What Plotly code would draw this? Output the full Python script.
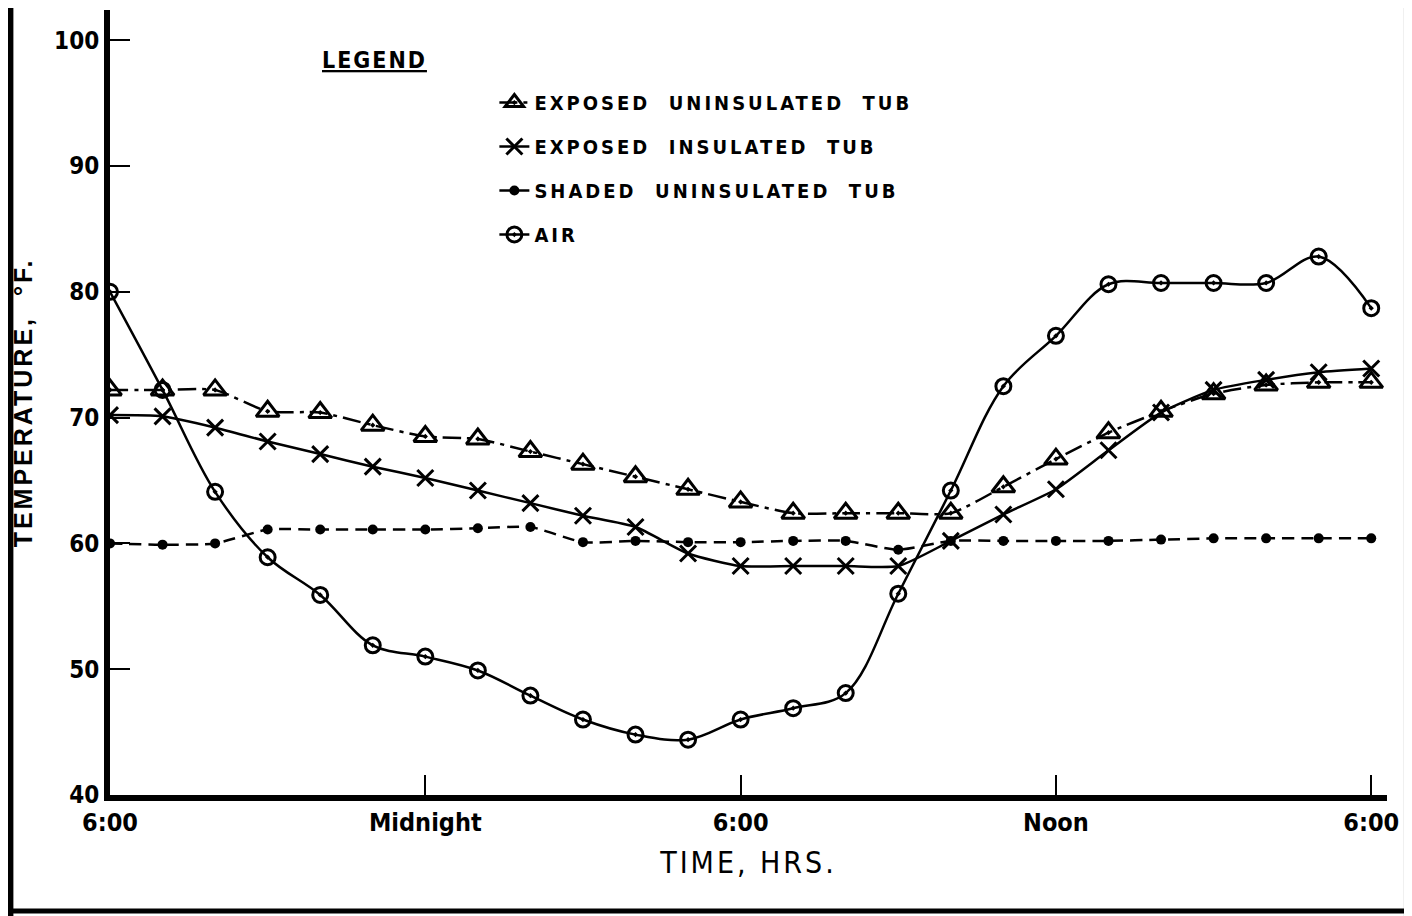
import plotly.graph_objects as go

# Hours after 6:00 PM (0..24)
hours = list(range(25))
tick_vals = [0, 6, 12, 18, 24]
tick_text = ["6:00", "Midnight", "6:00", "Noon", "6:00"]
y_ticks = [40, 50, 60, 70, 80, 90, 100]

exposed_uninsulated = [72.2, 72.2, 72.2, 70.5, 70.4, 69.4, 68.5, 68.3, 67.3, 66.3, 65.3, 64.3,
                       63.3, 62.4, 62.4, 62.4, 62.4, 64.5, 66.7, 68.8, 70.5, 71.9, 72.6, 72.8, 72.8]
exposed_insulated = [70.2, 70.1, 69.2, 68.1, 67.1, 66.1, 65.2, 64.2, 63.2, 62.2, 61.3, 59.2,
                     58.2, 58.2, 58.2, 58.2, 60.2, 62.3, 64.3, 67.4, 70.4, 72.2, 73.0, 73.6, 73.9]
shaded_uninsulated = [60.0, 59.9, 60.0, 61.1, 61.1, 61.1, 61.1, 61.2, 61.3, 60.1, 60.2, 60.1,
                      60.1, 60.2, 60.2, 59.5, 60.2, 60.2, 60.2, 60.2, 60.3, 60.4, 60.4, 60.4, 60.4]
air = [80.0, 72.2, 64.1, 58.9, 55.9, 51.9, 51.0, 49.9, 47.9, 46.0, 44.8, 44.4,
       46.0, 46.9, 48.1, 56.0, 64.2, 72.5, 76.5, 80.6, 80.7, 80.7, 80.7, 82.8, 78.7]

names = ["EXPOSED  UNINSULATED  TUB", "EXPOSED  INSULATED  TUB",
         "SHADED  UNINSULATED  TUB", "AIR"]

NARROW = "Liberation Sans Narrow, DejaVu Sans Condensed, Roboto Condensed, Liberation Sans, sans-serif"
COND = "DejaVu Sans Condensed, Liberation Sans, sans-serif"

def lab(s):
    return "<span style='letter-spacing:3px'>" + s.replace(" ", "\u00a0") + "</span>"

fig = go.Figure()
fig.add_trace(go.Scatter(
    x=hours, y=exposed_uninsulated, name=lab(names[0]), legendgroup="a",
    mode="lines+markers", line=dict(color="black", width=2.5, dash="18px,6px,4px,6px",
                                    shape="spline", smoothing=0.6),
    marker=dict(symbol="triangle-up-open-dot", size=20, color="black", line=dict(width=3, color="black"))))
fig.add_trace(go.Scatter(
    x=hours, y=exposed_insulated, name=lab(names[1]), legendgroup="b",
    mode="lines+markers", line=dict(color="black", width=2.5, shape="spline", smoothing=0.6),
    marker=dict(symbol="x-thin-open", size=16, color="black", line=dict(width=3, color="black"))))
fig.add_trace(go.Scatter(
    x=hours, y=shaded_uninsulated, name=lab(names[2]), legendgroup="c",
    mode="lines+markers", line=dict(color="black", width=2.5, dash="12px,7px",
                                    shape="spline", smoothing=0.6),
    marker=dict(symbol="circle", size=10, color="black")))
fig.add_trace(go.Scatter(
    x=hours, y=air, name=lab(names[3]), legendgroup="d",
    mode="lines+markers", line=dict(color="black", width=2.5, shape="spline", smoothing=1.0),
    marker=dict(symbol="circle-open-dot", size=15, color="black", line=dict(width=3, color="black"))))

tick_font = dict(family=NARROW, size=25, color="black", weight="bold")

fig.update_xaxes(
    range=[0, 24.3], tickmode="array", tickvals=tick_vals, ticktext=tick_text,
    ticks="inside", ticklen=20, tickwidth=2, tickcolor="black",
    showline=True, linewidth=6, linecolor="black", showgrid=False, zeroline=False,
    tickfont=tick_font,
    title=dict(text="<span style='letter-spacing:3px'>TIME,\u00a0HRS.</span>",
               font=dict(family=NARROW, size=30, color="black"), standoff=18))
fig.update_yaxes(
    range=[40, 102.4], tickmode="array", tickvals=y_ticks,
    ticks="inside", ticklen=20, tickwidth=2, tickcolor="black",
    showline=True, linewidth=6, linecolor="black", showgrid=False, zeroline=False,
    tickfont=dict(family=NARROW, size=24, color="black", weight="bold"),
    title=dict(text="<span style='letter-spacing:3px'>TEMPERATURE,\u00a0\u00a0\u00b0F.</span>",
               font=dict(family="Liberation Sans", size=25, color="black", weight="bold"), standoff=16))

# Page frame (left, right, bottom edges)
fig.add_shape(type="line", xref="paper", yref="paper", x0=-0.078, x1=-0.078, y0=-0.16, y1=1.02,
              line=dict(color="black", width=6))
fig.add_shape(type="line", xref="paper", yref="paper", x0=1.0164, x1=1.0164, y0=-0.16, y1=1.02,
              line=dict(color="black", width=8))
fig.add_shape(type="line", xref="paper", yref="paper", x0=-0.078, x1=1.0164, y0=-0.1478, y1=-0.1478,
              line=dict(color="black", width=5))

fig.add_annotation(xref="paper", yref="paper", x=0.2075, y=0.936, xanchor="center", yanchor="middle",
                   showarrow=False,
                   text="<u><span style='letter-spacing:2px'>LEGEND</span></u>",
                   font=dict(family=COND, size=23, color="black", weight="bold"))

fig.update_layout(
    width=1404, height=908,
    margin=dict(l=102, r=25, t=2, b=121),
    paper_bgcolor="white", plot_bgcolor="white",
    showlegend=True,
    legend=dict(x=0.301, y=0.907, xanchor="left", yanchor="top", bgcolor="rgba(0,0,0,0)",
                font=dict(family=COND, size=20, color="black", weight="bold"),
                tracegroupgap=15, traceorder="grouped"),
)

fig.write_html("out.html")
